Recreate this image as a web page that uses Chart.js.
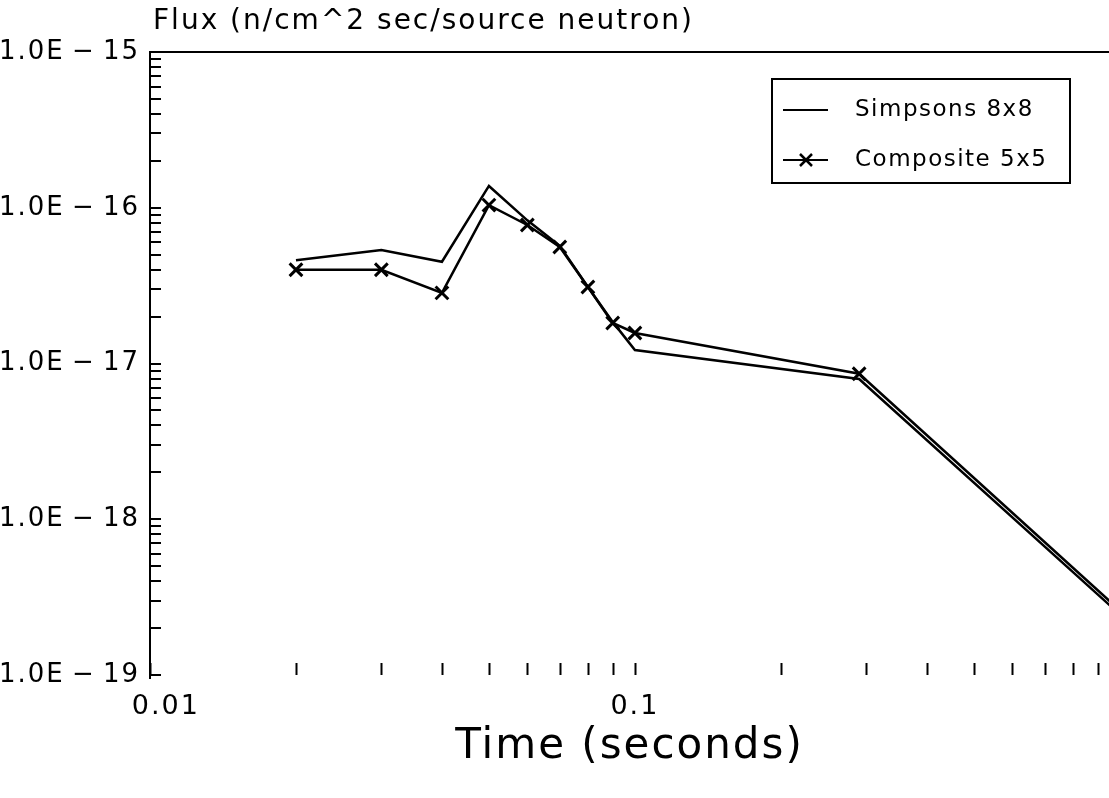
<!DOCTYPE html>
<html><head><meta charset="utf-8">
<script src="https://cdn.jsdelivr.net/npm/chart.js@4.4.1/dist/chart.umd.min.js"></script>
<style>html,body{margin:0;padding:0;background:#fff}</style>
</head><body>
<canvas id="c" width="1109" height="798"></canvas>
<script>
// ---- data ----
const timeValues = [0.02, 0.03, 0.04, 0.05, 0.06, 0.07, 0.08, 0.09, 0.1, 0.29, 1.0];
const simpsonsFlux = [4.6e-17, 5.35e-17, 4.5e-17, 1.38e-16, 8.3e-17, 5.7e-17, 3.1e-17, 1.85e-17, 1.22e-17, 7.95e-18, 2.45e-19];
const compositeFlux = [4.0e-17, 4.0e-17, 2.84e-17, 1.04e-16, 7.75e-17, 5.6e-17, 3.1e-17, 1.82e-17, 1.57e-17, 8.6e-18, 2.6e-19];
const seriesNames = ['Simpsons 8x8', 'Composite 5x5'];
const xTickLabels = { '0.01': '   0.01', '0.1': '0.1' };
const yDecades = [-19, -18, -17, -16, -15];
const chartTitle = 'Flux (n/cm^2 sec/source neutron)';
const xAxisTitle = 'Time (seconds)';

const FONT = "'DejaVu Sans', sans-serif";
function isNice(v) {
  const e = Math.floor(Math.log10(v) + 1e-9);
  const m = v / Math.pow(10, e);
  return Math.abs(m - Math.round(m)) < 1e-6;
}
function isDecade(v) {
  const l = Math.log10(v);
  return Math.abs(l - Math.round(l)) < 1e-6;
}

const toPts = (xs, ys) => xs.map((x, i) => ({ x, y: ys[i] }));

const decor = {
  id: 'decor',
  beforeDraw(chart) {
    chart.ctx.letterSpacing = '2px';
  },
  afterDatasetsDraw(chart) {
    const { ctx, chartArea: a, scales: { x, y } } = chart;
    ctx.save();
    ctx.strokeStyle = '#000';
    ctx.lineWidth = 2;
    ctx.beginPath();
    // frame: left axis and top border
    ctx.moveTo(a.left, a.bottom + 4);
    ctx.lineTo(a.left, a.top);
    ctx.lineTo(a.right, a.top);
    // inward x ticks
    x.ticks.forEach(t => {
      if (!isNice(t.value)) return;
      const px = Math.round(x.getPixelForValue(t.value)) + 0.5;
      ctx.moveTo(px, a.bottom);
      ctx.lineTo(px, a.bottom - 12);
    });
    // inward y ticks
    y.ticks.forEach(t => {
      if (!isNice(t.value)) return;
      const py = Math.round(y.getPixelForValue(t.value));
      ctx.moveTo(a.left, py);
      ctx.lineTo(a.left + 11, py);
    });
    ctx.stroke();

    // title
    ctx.fillStyle = '#000';
    ctx.letterSpacing = '2px';
    ctx.font = `28px ${FONT}`;
    ctx.textBaseline = 'middle';
    ctx.textAlign = 'left';
    ctx.fillText(chartTitle, a.left + 3, a.top - 30);

    // legend box
    const bx = a.left + 622, by = a.top + 27, bw = 298, bh = 104;
    ctx.lineWidth = 2;
    ctx.strokeRect(bx, by, bw, bh);
    const rows = [by + 31, by + 81];
    ctx.font = `23px ${FONT}`;
    ctx.letterSpacing = '1.5px';
    rows.forEach((ry, i) => {
      ctx.lineWidth = 2;
      ctx.beginPath();
      ctx.moveTo(bx + 11, ry);
      ctx.lineTo(bx + 56, ry);
      ctx.stroke();
      if (i === 1) {
        const cx = bx + 34, r = 6;
        ctx.lineWidth = 2.5;
        ctx.beginPath();
        ctx.moveTo(cx - r, ry - r); ctx.lineTo(cx + r, ry + r);
        ctx.moveTo(cx + r, ry - r); ctx.lineTo(cx - r, ry + r);
        ctx.stroke();
      }
      ctx.fillText(seriesNames[i], bx + 83, ry);
    });
    ctx.restore();
  }
};

new Chart(document.getElementById('c'), {
  type: 'line',
  data: {
    datasets: [
      {
        label: seriesNames[0],
        data: toPts(timeValues, simpsonsFlux),
        borderColor: '#000', borderWidth: 2.5, pointRadius: 0,
        tension: 0, fill: false
      },
      {
        label: seriesNames[1],
        data: toPts(timeValues, compositeFlux),
        borderColor: '#000', borderWidth: 2.5,
        pointStyle: 'crossRot', pointRadius: 9, pointBorderWidth: 3,
        pointBorderColor: '#000', pointBackgroundColor: '#000',
        tension: 0, fill: false
      }
    ]
  },
  options: {
    responsive: false,
    animation: false,
    devicePixelRatio: 1,
    layout: { autoPadding: false, padding: { top: 52, right: 0, left: 0, bottom: 0 } },
    plugins: { legend: { display: false }, tooltip: { enabled: false }, title: { display: false } },
    scales: {
      x: {
        type: 'logarithmic', position: 'bottom',
        min: 0.01, max: 0.95,
        grid: { display: false, drawTicks: false },
        border: { display: false },
        ticks: {
          autoSkip: false, maxRotation: 0, minRotation: 0, padding: 16,
          color: '#000', font: { family: FONT, size: 27 },
          callback: (v) => {
            for (const k in xTickLabels) if (Math.abs(Number(k) - v) < 1e-9) return xTickLabels[k];
            return '';
          }
        },
        title: {
          display: true, text: xAxisTitle, color: '#000',
          font: { family: FONT, size: 42 }, padding: { top: 0, bottom: 26 }
        },
        afterFit(s) { s.height = 123; s.paddingRight = 0; s.paddingLeft = 0; }
      },
      y: {
        type: 'logarithmic', position: 'left',
        min: 1e-19, max: 1e-15,
        grid: { display: false, drawTicks: false },
        border: { display: false },
        ticks: {
          autoSkip: false, padding: 10,
          color: '#000', font: { family: FONT, size: 26 },
          callback: (v) => {
            if (!isDecade(v)) return '';
            const e = Math.round(Math.log10(v));
            if (!yDecades.includes(e)) return '';
            return '1.0E\u2009\u2212\u2009' + (-e);
          }
        },
        afterFit(s) { s.width = 150; s.paddingTop = 0; s.paddingBottom = 0; }
      }
    }
  },
  plugins: [decor]
});
</script>
</body></html>
